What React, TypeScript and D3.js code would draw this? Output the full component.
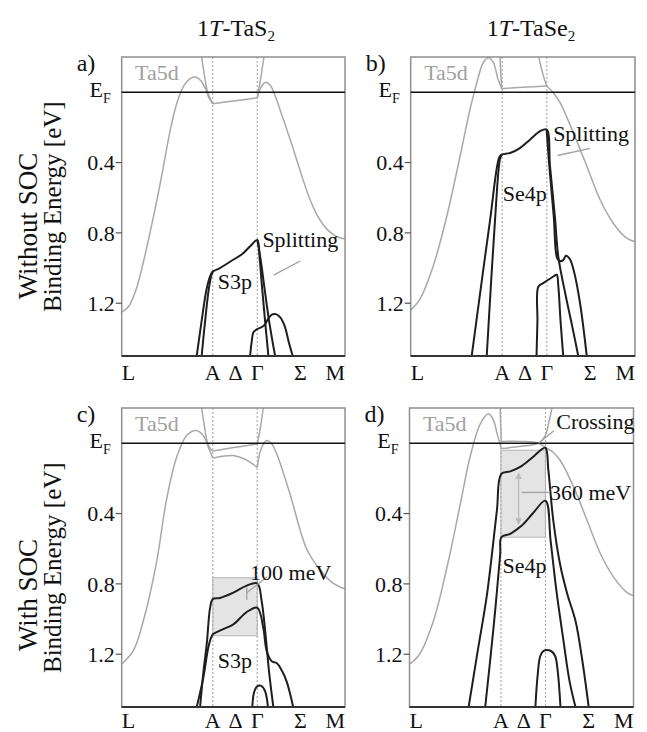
import * as d3 from "d3";

type Pt = [number, number];

// momentum path: L=0, A, Γ, M=1 ; energies in eV (binding energy, positive down)
const kA = 0.408;
const kG = 0.607;
const xLabels = ["L", "A", "Δ", "Γ", "Σ", "M"];
const xLabelK = [0, kA, 0.51, kG, 0.8, 1];
const yTicks = [0.4, 0.8, 1.2];
const yTickLabels = ["0.4", "0.8", "1.2"];

// ---- a) 1T-TaS2 without SOC
const aGrayMain: Pt[] = [[0, 1.25], [0.03, 1.22], [0.065, 1.12], [0.1, 0.95], [0.13, 0.78], [0.16, 0.6], [0.19, 0.4], [0.22, 0.2], [0.25, 0.05], [0.28, -0.04], [0.31, -0.08], [0.333, -0.085], [0.355, -0.065], [0.375, -0.02], [0.392, 0.035], [0.408, 0.066]];
const aGrayMid: Pt[] = [[0.408, 0.066], [0.5, 0.05], [0.607, 0.032]];
const aGrayRight: Pt[] = [[0.607, 0.032], [0.625, -0.03], [0.645, -0.056], [0.665, -0.04], [0.69, 0.03], [0.72, 0.14], [0.76, 0.29], [0.8, 0.45], [0.84, 0.6], [0.88, 0.71], [0.92, 0.78], [0.96, 0.82], [1.0, 0.835]];
const aGrayUpL: Pt[] = [[0.358, -0.2], [0.37, -0.1], [0.385, 0.0], [0.408, 0.066]];
const aGrayUpR: Pt[] = [[0.607, 0.032], [0.62, -0.06], [0.637, -0.2]];
const aTop: Pt[] = [[0.336, 1.5], [0.358, 1.3], [0.38, 1.12], [0.398, 1.04], [0.408, 1.02], [0.44, 1.0], [0.49, 0.96], [0.54, 0.92], [0.58, 0.87], [0.607, 0.84], [0.618, 0.95], [0.628, 1.1], [0.642, 1.3], [0.657, 1.5]];
const aSecond: Pt[] = [[0.358, 1.5], [0.372, 1.32], [0.39, 1.12], [0.402, 1.04], [0.408, 1.02]];
const aRight2: Pt[] = [[0.607, 0.84], [0.622, 0.95], [0.638, 1.1], [0.66, 1.3], [0.687, 1.5]];
const aLow: Pt[] = [[0.575, 1.5], [0.582, 1.42], [0.59, 1.365], [0.61, 1.345], [0.628, 1.335], [0.642, 1.32], [0.655, 1.29], [0.672, 1.265], [0.69, 1.262], [0.71, 1.28], [0.73, 1.33], [0.748, 1.42], [0.766, 1.5]];

// ---- b) 1T-TaSe2 without SOC
const bGrayMain: Pt[] = [[0, 1.24], [0.04, 1.18], [0.1, 0.99], [0.16, 0.71], [0.22, 0.365], [0.264, 0.1], [0.294, -0.05], [0.324, -0.17], [0.346, -0.196], [0.368, -0.17], [0.39, -0.07], [0.406, -0.02]];
const bGrayMid: Pt[] = [[0.406, -0.02], [0.5, -0.028], [0.606, -0.035]];
const bGrayRight: Pt[] = [[0.606, -0.035], [0.636, 0.003], [0.666, 0.06], [0.725, 0.23], [0.785, 0.42], [0.844, 0.61], [0.903, 0.745], [0.963, 0.83], [1.0, 0.85]];
const bGrayUpL: Pt[] = [[0.398, -0.2], [0.402, -0.1], [0.406, -0.02]];
const bGrayUpR: Pt[] = [[0.571, -0.2], [0.59, -0.1], [0.606, -0.035]];
const bTop: Pt[] = [[0.272, 1.5], [0.313, 1.11], [0.354, 0.726], [0.395, 0.37], [0.406, 0.355], [0.443, 0.346], [0.487, 0.318], [0.532, 0.27], [0.577, 0.222], [0.606, 0.212], [0.621, 0.42], [0.643, 0.71], [0.658, 0.935], [0.69, 1.15], [0.72, 1.33], [0.747, 1.5]];
const bSecond: Pt[] = [[0.339, 1.5], [0.357, 1.11], [0.376, 0.726], [0.398, 0.38], [0.406, 0.355]];
const bRight2: Pt[] = [[0.606, 0.212], [0.618, 0.42], [0.638, 0.71], [0.652, 0.94], [0.665, 0.96], [0.68, 0.955], [0.692, 0.93], [0.71, 0.95], [0.728, 1.02], [0.755, 1.2], [0.785, 1.5]];
const bLow: Pt[] = [[0.561, 1.5], [0.565, 1.3], [0.569, 1.106], [0.591, 1.086], [0.636, 1.048], [0.651, 1.038], [0.658, 1.1], [0.668, 1.3], [0.68, 1.5]];

// ---- c) 1T-TaS2 with SOC
const cGrayMain: Pt[] = [[0, 1.257], [0.052, 1.18], [0.097, 1.01], [0.157, 0.67], [0.2, 0.326], [0.246, 0.08], [0.291, -0.044], [0.333, -0.072], [0.365, -0.044], [0.388, 0.023], [0.408, 0.085]];
const cGrayMidUp: Pt[] = [[0.408, 0.045], [0.5, 0.025], [0.607, 0.005]];
const cGrayMidLow: Pt[] = [[0.408, 0.085], [0.45, 0.075], [0.5, 0.07], [0.55, 0.09], [0.607, 0.137]];
const cGrayRight: Pt[] = [[0.607, 0.137], [0.625, 0.03], [0.649, -0.015], [0.67, 0.0], [0.694, 0.06], [0.754, 0.29], [0.828, 0.6], [0.888, 0.72], [0.94, 0.79], [1.0, 0.83]];
const cGrayUpL: Pt[] = [[0.358, -0.2], [0.37, -0.1], [0.385, 0.0], [0.403, 0.042], [0.408, 0.045]];
const cGrayUpR: Pt[] = [[0.607, 0.005], [0.62, -0.08], [0.634, -0.2]];
const cUpper: Pt[] = [[0.351, 1.5], [0.366, 1.3], [0.381, 1.14], [0.396, 0.935], [0.408, 0.886], [0.44, 0.88], [0.5, 0.85], [0.56, 0.81], [0.607, 0.797], [0.627, 0.9], [0.645, 1.1], [0.66, 1.3], [0.679, 1.5]];
const cLower: Pt[] = [[0.336, 1.5], [0.366, 1.33], [0.388, 1.16], [0.402, 1.1], [0.408, 1.087], [0.45, 1.06], [0.5, 1.03], [0.56, 0.96], [0.607, 0.935], [0.634, 1.05], [0.649, 1.18], [0.672, 1.24], [0.694, 1.25], [0.72, 1.3], [0.74, 1.36], [0.768, 1.5]];
const cDome: Pt[] = [[0.585, 1.5], [0.592, 1.42], [0.605, 1.385], [0.625, 1.38], [0.642, 1.41], [0.655, 1.5]];
const cBox: Pt = [0.765, 1.095];

// ---- d) 1T-TaSe2 with SOC
const dGrayMain: Pt[] = [[0, 1.257], [0.045, 1.2], [0.107, 1.01], [0.167, 0.707], [0.227, 0.345], [0.27, 0.08], [0.316, -0.11], [0.353, -0.167], [0.375, -0.13], [0.392, -0.05], [0.41, 0.03]];
const dGrayCross1: Pt[] = [[0.41, 0.03], [0.5, 0.018], [0.576, 0.0], [0.605, -0.04], [0.622, -0.12], [0.636, -0.2]];
const dGrayUpL: Pt[] = [[0.405, -0.2], [0.407, -0.1], [0.41, -0.01]];
const dGrayCross2: Pt[] = [[0.41, -0.01], [0.5, -0.01], [0.576, 0.0], [0.607, 0.025], [0.64, 0.05], [0.674, 0.1], [0.733, 0.25], [0.793, 0.44], [0.853, 0.63], [0.912, 0.763], [0.972, 0.85], [1.0, 0.868]];
const dUpper: Pt[] = [[0.264, 1.5], [0.306, 1.17], [0.346, 0.86], [0.39, 0.385], [0.41, 0.175], [0.45, 0.16], [0.5, 0.13], [0.55, 0.08], [0.585, 0.04], [0.607, 0.026], [0.62, 0.155], [0.642, 0.44], [0.674, 0.7], [0.705, 0.86], [0.741, 1.01], [0.772, 1.24], [0.8, 1.5]];
const dLower: Pt[] = [[0.338, 1.5], [0.375, 1.05], [0.405, 0.63], [0.41, 0.535], [0.45, 0.515], [0.5, 0.47], [0.55, 0.4], [0.607, 0.327], [0.63, 0.555], [0.656, 0.84], [0.687, 1.12], [0.714, 1.35], [0.741, 1.5]];
const dDome: Pt[] = [[0.562, 1.5], [0.572, 1.32], [0.584, 1.21], [0.6, 1.18], [0.63, 1.18], [0.65, 1.21], [0.662, 1.3], [0.674, 1.5]];
const dBox: Pt = [0.04, 0.535];

const FONT = "'Liberation Serif', 'DejaVu Serif', serif";
const GRAY = "#a8a8a8";
const BLACK = "#1e1e1e";

interface Note {
  text: string;
  at: Pt; // text position (k, E)
  leader?: [Pt, Pt];
}

interface PanelSpec {
  id: string;
  letter: string;
  left: number;
  top: number;
  width: number;
  height: number;
  labelDrop: number;
  gray: Pt[][];
  black: Pt[][];
  box?: Pt;
  bandLabel: string;
  bandAt: Pt;
  notes: Note[];
  marker?: "split" | "arrow";
}

const panels: PanelSpec[] = [
  {
    id: "a", letter: "a)", left: 121.7, top: 57, width: 223.3, height: 299, labelDrop: 24,
    gray: [aGrayMain, aGrayMid, aGrayRight, aGrayUpL, aGrayUpR],
    black: [aTop, aSecond, aRight2, aLow],
    bandLabel: "S3p", bandAt: [0.43, 1.12],
    notes: [{ text: "Splitting", at: [0.63, 0.88], leader: [[0.8, 0.96], [0.68, 1.04]] }],
  },
  {
    id: "b", letter: "b)", left: 410.7, top: 57, width: 224.3, height: 299, labelDrop: 24,
    gray: [bGrayMain, bGrayMid, bGrayRight, bGrayUpL, bGrayUpR],
    black: [bTop, bSecond, bRight2, bLow],
    bandLabel: "Se4p", bandAt: [0.41, 0.62],
    notes: [{ text: "Splitting", at: [0.635, 0.275], leader: [[0.8, 0.32], [0.655, 0.36]] }],
  },
  {
    id: "c", letter: "c)", left: 121.7, top: 408, width: 223.3, height: 299, labelDrop: 21,
    gray: [cGrayMain, cGrayMidUp, cGrayMidLow, cGrayRight, cGrayUpL, cGrayUpR],
    black: [cUpper, cLower, cDome],
    box: cBox,
    bandLabel: "S3p", bandAt: [0.43, 1.28],
    notes: [{ text: "100 meV", at: [0.575, 0.78], leader: [[0.652, 0.76], [0.56, 0.85]] }],
    marker: "split",
  },
  {
    id: "d", letter: "d)", left: 409.5, top: 408, width: 224, height: 299, labelDrop: 21,
    gray: [dGrayMain, dGrayCross1, dGrayUpL, dGrayCross2],
    black: [dUpper, dLower, dDome],
    box: dBox,
    bandLabel: "Se4p", bandAt: [0.415, 0.74],
    notes: [
      { text: "Crossing", at: [0.655, -0.08], leader: [[0.645, -0.07], [0.576, 0.0]] },
      { text: "360 meV", at: [0.627, 0.325], leader: [[0.5, 0.28], [0.627, 0.28]] },
    ],
    marker: "arrow",
  },
];

function Panel({ p }: { p: PanelSpec }) {
  const x = d3.scaleLinear().domain([0, 1]).range([p.left, p.left + p.width]);
  const y = d3.scaleLinear().domain([-0.2, 1.5]).range([p.top, p.top + p.height]);
  const line = d3.line<Pt>().x(d => x(d[0])).y(d => y(d[1])).curve(d3.curveCatmullRom.alpha(0.5));
  const clip = `clip-${p.id}`;
  const bottom = p.top + p.height;
  const right = p.left + p.width;

  return (
    <g>
      <defs>
        <clipPath id={clip}>
          <rect x={p.left} y={p.top} width={p.width} height={p.height} />
        </clipPath>
        <marker id={`arr-${p.id}`} viewBox="0 0 10 10" refX="9" refY="5" markerWidth="5" markerHeight="5" orient="auto-start-reverse">
          <path d="M0,0 L10,5 L0,10 z" fill="#bbb" />
        </marker>
      </defs>

      {p.box && (
        <rect x={x(kA)} y={y(p.box[0])} width={x(kG) - x(kA)} height={y(p.box[1]) - y(p.box[0])}
          fill="#e4e4e4" stroke="#b5b5b5" strokeWidth={1} />
      )}

      {[kA, kG].map(k => (
        <line key={k} x1={x(k)} x2={x(k)} y1={p.top} y2={bottom} stroke="#b0b0b0" strokeWidth={1.2} strokeDasharray="2,2" />
      ))}

      <g clipPath={`url(#${clip})`} fill="none">
        {p.gray.map((d, i) => (
          <path key={"g" + i} d={line(d) || ""} stroke={GRAY} strokeWidth={1.5} />
        ))}
        {p.black.map((d, i) => (
          <path key={"b" + i} d={line(d) || ""} stroke={BLACK} strokeWidth={2} />
        ))}
      </g>

      {/* frame */}
      <rect x={p.left} y={p.top} width={p.width} height={p.height} fill="none" stroke="#8f8f8f" strokeWidth={1.5} />
      <line x1={p.left} x2={right} y1={bottom} y2={bottom} stroke="#333" strokeWidth={2.2} />
      <line x1={p.left} x2={right} y1={y(0)} y2={y(0)} stroke="#111" strokeWidth={1.6} />

      {/* y ticks */}
      {yTicks.map((t, i) => (
        <g key={t}>
          <line x1={p.left - 6} x2={p.left} y1={y(t)} y2={y(t)} stroke="#555" strokeWidth={1.2} />
          <text x={p.left - 7} y={y(t)} dy="0.35em" textAnchor="end" fontSize={22} fontFamily={FONT} fill="#111">{yTickLabels[i]}</text>
        </g>
      ))}
      <text x={p.left - 11} y={y(0) + 5} textAnchor="end" fontSize={22} fontFamily={FONT} fill="#111">
        E<tspan fontSize={14} dy={6}>F</tspan>
      </text>

      {/* x labels */}
      {xLabels.map((l, i) => (
        <text key={l} x={x(xLabelK[i])} y={bottom + p.labelDrop}
          textAnchor={i === 0 ? "start" : i === xLabels.length - 1 ? "end" : "middle"}
          fontSize={22} fontFamily={FONT} fill="#111">{l}</text>
      ))}

      <text x={p.left - 45} y={p.top + 14} fontSize={24} fontFamily={FONT} fill="#111">{p.letter}</text>
      <text x={x(0.06)} y={y(-0.07)} fontSize={22} fontFamily={FONT} fill="#a0a0a0">Ta5d</text>
      <text x={x(p.bandAt[0])} y={y(p.bandAt[1])} fontSize={22} fontFamily={FONT} fill="#111">{p.bandLabel}</text>

      {p.notes.map(n => (
        <g key={n.text}>
          {n.leader && (
            <line x1={x(n.leader[0][0])} y1={y(n.leader[0][1])} x2={x(n.leader[1][0])} y2={y(n.leader[1][1])}
              stroke="#a0a0a0" strokeWidth={1.3} />
          )}
          <text x={x(n.at[0])} y={y(n.at[1])} fontSize={22} fontFamily={FONT} fill="#111">{n.text}</text>
        </g>
      ))}

      {p.marker === "split" && (
        <line x1={x(0.56)} x2={x(0.56)} y1={y(0.82)} y2={y(0.89)} stroke="#a0a0a0" strokeWidth={1.3} />
      )}
      {p.marker === "arrow" && (
        <line x1={x(0.487)} x2={x(0.487)} y1={y(0.17)} y2={y(0.46)} stroke="#bbb" strokeWidth={1.3}
          markerStart={`url(#arr-${p.id})`} markerEnd={`url(#arr-${p.id})`} />
      )}
    </g>
  );
}

export default function App() {
  return (
    <svg width={647} height={732} style={{ position: "absolute", left: 0, top: 0, background: "#fff" }}>
      <text x={236} y={36} textAnchor="middle" fontSize={24} fontFamily={FONT} fill="#111">
        1<tspan fontStyle="italic">T</tspan>-TaS<tspan fontSize={15} dy={5}>2</tspan>
      </text>
      <text x={531} y={36} textAnchor="middle" fontSize={24} fontFamily={FONT} fill="#111">
        1<tspan fontStyle="italic">T</tspan>-TaSe<tspan fontSize={15} dy={5}>2</tspan>
      </text>

      <text transform="translate(37,226) rotate(-90)" textAnchor="middle" fontSize={27} fontFamily={FONT} fill="#111">Without SOC</text>
      <text transform="translate(61,312) rotate(-90)" fontSize={25} fontFamily={FONT} fill="#111">Binding Energy [eV]</text>
      <text transform="translate(37,595) rotate(-90)" textAnchor="middle" fontSize={27} fontFamily={FONT} fill="#111">With SOC</text>
      <text transform="translate(61,673) rotate(-90)" fontSize={25} fontFamily={FONT} fill="#111">Binding Energy [eV]</text>

      {panels.map(p => <Panel key={p.id} p={p} />)}
    </svg>
  );
}
